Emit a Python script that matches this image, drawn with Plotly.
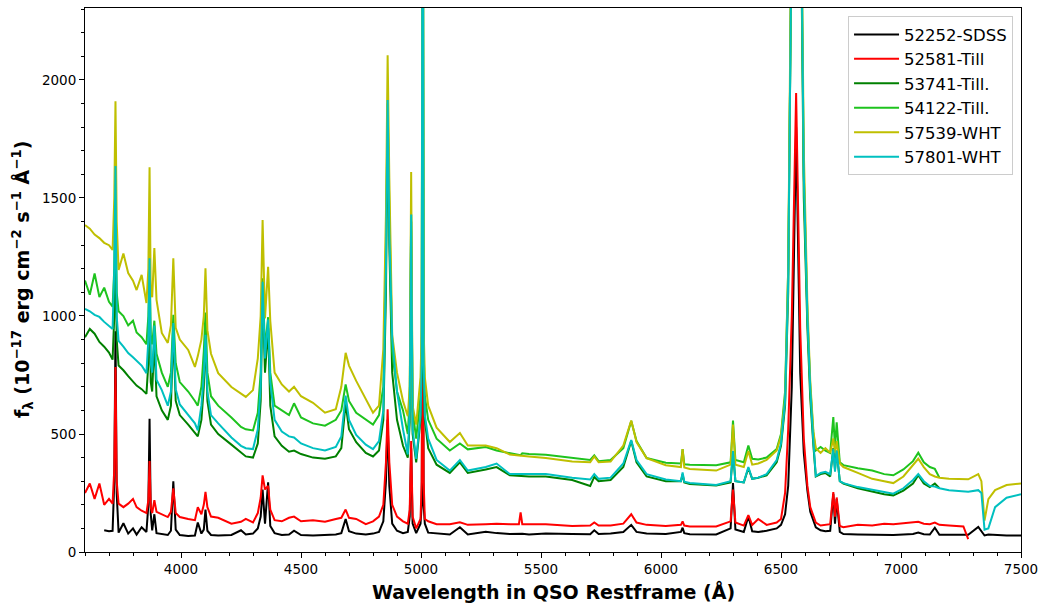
import plotly.graph_objects as go

# Rest-frame wavelength grid (Angstrom)
wave = [
    3600, 3620, 3640, 3660, 3680, 3700, 3715, 3722, 3727, 3732,
    3740, 3760, 3780, 3800, 3815, 3836, 3856, 3864, 3869, 3874,
    3880, 3889, 3898, 3920, 3945, 3958, 3968, 3978, 3995, 4030,
    4058, 4070, 4085, 4095, 4102, 4110, 4125, 4155, 4210, 4250,
    4270, 4300, 4320, 4332, 4340, 4350, 4363, 4372, 4390, 4420,
    4450, 4471, 4500, 4550, 4600, 4645, 4668, 4686, 4700, 4730,
    4770, 4800, 4825, 4843, 4854, 4861, 4868, 4880, 4900, 4925,
    4945, 4953, 4959, 4965, 4980, 4998, 5003, 5007, 5011, 5016, 5030, 5065,
    5120, 5162, 5195, 5270, 5315, 5370, 5408, 5415, 5422, 5450,
    5520, 5630,
    5705, 5722, 5740, 5790, 5843, 5876, 5898, 5940, 6020, 6083,
    6090, 6097, 6120, 6230, 6290, 6300, 6310, 6345, 6364, 6380,
    6405, 6440, 6482, 6500, 6517, 6530, 6545, 6563, 6580, 6595,
    6610, 6622, 6635, 6645, 6665, 6685, 6705, 6718, 6725, 6732,
    6745, 6760, 6820, 6880, 6930, 6968, 7010, 7050, 7072, 7095,
    7120, 7141, 7160, 7200, 7260, 7280, 7322, 7335, 7348, 7364,
    7392, 7440, 7500,
]

sdss_52252 = [
    None, None, None, None, 92, 88, 90, 300, 935, 250,
    82, 122, 78, 100, 74, 105, 85, 200, 565, 160,
    92, 160, 80, 76, 72, 90, 300, 95, 72, 68,
    70, 125, 78, 95, 180, 90, 72, 70, 72, 92,
    74, 78, 100, 150, 265, 120, 295, 110, 80, 72,
    74, 90, 72, 70, 72, 74, 80, 140, 88, 78,
    74, 78, 85, 130, 300, 560, 280, 120, 90, 80,
    85, 150, 440, 120, 80, 120, 200, 1350, 200, 120, 82, 78,
    74, 105, 74, 86, 80, 76, 77, 78, 77, 74,
    78, 76,
    75, 92, 76, 78, 85, 115, 85, 78, 76, 85,
    103, 80, 75, 74, 100, 292, 95, 85, 151, 88,
    85, 90, 100, 115, 160, 280, 700, 1800, 760, 420,
    260, 170, 130, 105, 92, 88, 90, 247, 120, 224,
    85, 76, 74, 72, 73, 72, 74, 76, 82, 75,
    74, 103, 73, 72, 72, 73, 106, 90, 70, 74,
    72, 70, 70,
]

till_52581 = [
    250, 290, 225, 290, 200, 225, 205, 350, 784, 300,
    205, 190, 205, 225, 190, 175, 165, 220, 385, 190,
    165, 220, 170, 160, 148, 170, 270, 165, 148, 140,
    135, 190, 160, 200, 255, 190, 150, 145, 120, 128,
    140, 125, 165, 230, 325, 265, 280, 180, 135, 130,
    145, 150, 130, 135, 128, 140, 145, 180, 145, 140,
    118, 130, 150, 200, 380, 605, 380, 200, 150, 130,
    120, 180, 470, 150, 100, 140, 300, 1450, 300, 140, 130, 118,
    118, 126, 115, 118, 120, 118, 118, 168, 118, 118,
    118, 110,
    112, 125, 112, 112, 120, 160, 125, 115, 110, 115,
    130, 112, 108, 108, 130, 265, 125, 112, 156, 115,
    140, 115, 125, 140, 250, 520, 1000, 1945, 950, 480,
    280, 190, 150, 125, 112, 115, 118, 254, 150, 231,
    110, 105, 115, 112, 120, 118, 122, 125, 128, 120,
    118, 125, 115, 112, 108, 55, None, None, None, None,
    None, None, None,
]

till_53741 = [
    910, 945, 925, 890, 870, 845, 815, 1000, 1400, 900,
    790, 770, 745, 720, 705, 690, 670, 800, 1150, 720,
    680, 900, 660, 600, 560, 620, 930, 640, 580, 540,
    505, 490, 560, 700, 920, 640, 540, 500, 455, 420,
    405, 400, 460, 640, 1100, 760, 950, 620, 490, 450,
    425, 430, 415, 400, 395, 405, 440, 630, 520, 465,
    420, 405, 430, 560, 1100, 1850, 1300, 760, 560, 450,
    400, 550, 1400, 500, 380, 560, 760, 3600, 760, 560, 440, 370,
    335, 380, 335, 350, 360, 325, 323, 322, 321, 320,
    320, 305,
    280, 318, 300, 305, 360, 470, 380, 320, 300, 300,
    330, 295, 288, 282, 295, 425, 300, 295, 355, 310,
    315, 325, 380, 450, 620, 1100, 2800, 4500, 3000, 1500,
    950, 650, 450, 320, 330, 335, 320, 440, 350, 430,
    300, 290, 270, 255, 245, 240, 260, 290, 325, 290,
    275, 290, 270, None, None, None, None, None, None, None,
    None, None, None,
]

till_54122 = [
    1150, 1090, 1180, 1080, 1120, 1060, 1040, 1200, 1600, 1100,
    1020, 1000, 960, 980, 930, 910, 880, 1000, 1240, 920,
    880, 980, 840, 760, 700, 760, 1005, 800, 720, 680,
    640, 620, 700, 850, 1015, 760, 660, 620, 570, 530,
    520, 515, 590, 760, 1160, 860, 995, 760, 620, 600,
    580, 630, 570, 545, 535, 560, 600, 710, 640, 590,
    560, 540, 580, 700, 1300, 1900, 1450, 850, 680, 600,
    500, 650, 1430, 600, 480, 660, 860, 3600, 860, 660, 560, 480,
    430, 460, 435, 445, 430, 420, 414, 410, 418, 415,
    412, 398,
    390, 410, 385, 390, 440, 555, 470, 398, 378, 375,
    436, 372, 370, 368, 380, 557, 390, 380, 451, 395,
    392, 400, 436, 500, 680, 1200, 2900, 4500, 3100, 1600,
    1000, 700, 500, 430, 445, 430, 420, 572, 440, 549,
    380, 368, 355, 345, 330, 325, 350, 385, 421, 380,
    360, 352, 315, None, None, None, None, None, None, None,
    None, None, None,
]

wht_57539 = [
    1385, 1370, 1345, 1330, 1310, 1300, 1280, 1500, 1910, 1400,
    1195, 1265, 1182, 1150, 1110, 1174, 1055, 1200, 1630, 1100,
    1080, 1288, 1068, 928, 886, 960, 1245, 950, 900, 856,
    784, 830, 900, 1000, 1202, 940, 840, 758, 699, 670,
    657, 686, 820, 1000, 1407, 990, 1208, 980, 760, 710,
    680, 700, 660, 632, 590, 605, 700, 844, 790, 725,
    650, 590, 620, 860, 1434, 2105, 1586, 920, 760, 640,
    575, 700, 1610, 620, 540, 740, 950, 3800, 950, 740, 620, 527,
    466, 504, 451, 451, 440, 413, 409, 408, 407, 405,
    398, 383,
    380, 405, 380, 383, 451, 557, 466, 398, 368, 360,
    436, 358, 352, 345, 370, 540, 370, 360, 428, 370,
    375, 390, 430, 490, 650, 1200, 2900, 4600, 3200, 1700,
    1050, 720, 510, 440, 420, 440, 420, 481, 420, 470,
    375, 360, 335, 310, 300, 292, 320, 370, 395, 360,
    330, 320, 315, 310, 307, 308, 330, 300, 133, 224,
    262, 284, 290,
]

wht_57801 = [
    1030, 1020, 1005, 996, 975, 960, 945, 1200, 1635, 1000,
    895, 870, 843, 825, 810, 790, 758, 900, 1245, 800,
    760, 960, 730, 686, 620, 680, 970, 690, 625, 580,
    545, 515, 620, 750, 920, 680, 580, 545, 485, 450,
    440, 436, 520, 700, 1145, 820, 985, 720, 560, 510,
    490, 485, 460, 440, 430, 445, 490, 663, 560, 496,
    455, 436, 470, 600, 1200, 1915, 1350, 905, 680, 520,
    413, 600, 1430, 520, 395, 580, 800, 3800, 800, 580, 480, 390,
    345, 390, 345, 360, 375, 330, 330, 330, 331, 332,
    330, 315,
    307, 330, 310, 315, 375, 474, 390, 330, 307, 300,
    337, 298, 292, 284, 300, 428, 300, 295, 360, 310,
    315, 330, 390, 460, 640, 1150, 2850, 4600, 3100, 1600,
    1000, 690, 466, 322, 335, 340, 330, 436, 340, 430,
    300, 292, 275, 262, 254, 247, 270, 305, 330, 300,
    280, 277, 270, 262, 256, 255, 262, 250, 95, 100,
    190, 230, 245,
]

series_names = ["52252-SDSS", "52581-Till", "53741-Till.", "54122-Till.",
                "57539-WHT", "57801-WHT"]
series_flux = [sdss_52252, till_52581, till_53741, till_54122, wht_57539, wht_57801]
series_colors = ["#000000", "#ff0000", "#008000", "#1ec31e", "#bfbf00", "#00c0c0"]

x_ticks = [4000, 4500, 5000, 5500, 6000, 6500, 7000, 7500]
y_ticks = [0, 500, 1000, 1500, 2000]

fig = go.Figure()
for name, flux, col in zip(series_names, series_flux, series_colors):
    fig.add_trace(go.Scatter(x=wave, y=flux, mode="lines", name=name,
                             line=dict(color=col, width=2), connectgaps=False))

font_fam = "DejaVu Sans"
fig.update_layout(
    width=1040, height=603, autosize=False,
    margin=dict(l=85, r=19, t=8, b=51, autoexpand=False),
    paper_bgcolor="white", plot_bgcolor="white",
    font=dict(family=font_fam, size=13.5, color="black"),
    showlegend=True,
    legend=dict(x=0.9915, y=0.985, xanchor="right", yanchor="top",
                bgcolor="rgba(255,255,255,0.85)", bordercolor="#cccccc", borderwidth=1,
                font=dict(family=font_fam, size=16.5, color="black"),
                itemwidth=45, tracegroupgap=0),
)
fig.update_xaxes(range=[3600, 7500], tickvals=x_ticks, ticks="outside", ticklen=5,
                 tickcolor="black", showline=True, linecolor="black", linewidth=1,
                 mirror=True, showgrid=False, zeroline=False, automargin=False,
                 minor=dict(dtick=100, tick0=3600, ticks="outside", ticklen=3,
                            tickcolor="black", showgrid=False),
                 tickfont=dict(size=13.5, family=font_fam, color="black"))
fig.update_yaxes(range=[0, 2305], tickvals=y_ticks, ticks="outside", ticklen=5,
                 tickcolor="black", showline=True, linecolor="black", linewidth=1,
                 mirror=True, showgrid=False, zeroline=False, automargin=False,
                 minor=dict(dtick=100, tick0=0, ticks="outside", ticklen=3,
                            tickcolor="black", showgrid=False),
                 tickfont=dict(size=13.5, family=font_fam, color="black"))

fig.add_annotation(text="Wavelength in QSO Restframe (Å)", xref="paper", yref="paper",
                   x=0.5, y=-0.0717, xanchor="center", yanchor="middle", showarrow=False,
                   font=dict(family=font_fam, size=19, color="black", weight="bold"))
fig.add_annotation(text="f<sub>λ</sub> (10<sup>−17</sup> erg cm<sup>−2</sup> s<sup>−1</sup> Å<sup>−1</sup>)",
                   xref="paper", yref="paper", x=-0.0673, y=0.5, xanchor="center",
                   yanchor="middle", textangle=-90, showarrow=False,
                   font=dict(family=font_fam, size=19, color="black", weight="bold"))

post = ("document.documentElement.style.margin='0';document.body.style.margin='0';"
        "document.body.style.padding='0';document.documentElement.style.overflow='hidden';"
        "document.body.style.overflow='hidden';")
fig.write_html("out.html", post_script=post,
               config={"responsive": False, "displayModeBar": False})
